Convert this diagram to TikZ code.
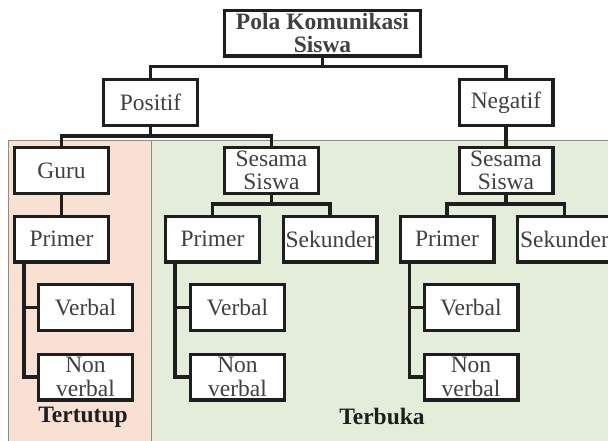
\documentclass[tikz,border=0pt]{standalone}
\usepackage{fontspec}
\setmainfont{Liberation Serif}
\usetikzlibrary{positioning, calc}
\definecolor{Ink}{HTML}{1E1E1E}
\definecolor{Peach}{HTML}{F8E1D3}
\definecolor{Sage}{HTML}{E3EDD9}
\definecolor{Edge}{HTML}{8A8F86}
\tikzset{
    boxnode/.style={rectangle, draw=Ink, line width=3.2pt, fill=white, text=Ink!85, align=center, inner sep=0pt,
        minimum width=93.8pt, minimum height=45.8pt, font=\fontsize{23.5}{23.5}\selectfont},
    rootnode/.style={boxnode, minimum width=195.8pt, font=\fontsize{23.5}{23.5}\selectfont\bfseries},
    link/.style={line width=3.2pt, draw=Ink},
    zone/.style={draw=Edge, line width=1pt},
    zonelabel/.style={font=\fontsize{23.5}{24}\selectfont\bfseries, text=Ink},
}
\begin{document}
\begin{tikzpicture}[x=1pt, y=-1pt]
    \useasboundingbox (0,0) rectangle (608,440);

    % Zone di sfondo
    \filldraw[zone, fill=Peach] (8,140) rectangle (151,441);
    \filldraw[zone, fill=Sage] (151,140) rectangle (609,441);
    \node[zonelabel] (tertutup) at (83,417) {Tertutup};
    \node[zonelabel] (terbuka) at (382,416) {Terbuka};

    % Livello 0 e 1
    \node[rootnode] (root) at (322.5,33) {Pola Komunikasi\\Siswa};
    \node[boxnode] (pos) at (150.5,102.5) {Positif};
    \node[boxnode] (neg) at (506,102.5) {Negatif};

    % Livello 2
    \node[boxnode] (guru) at (61.5,170.5) {Guru};
    \node[boxnode] (ssA) at (271.5,170.5) {Sesama\\Siswa};
    \node[boxnode] (ssB) at (506,170.5) {Sesama\\Siswa};

    % Livello 3
    \node[boxnode] (primA) at (61.5,239) {Primer};
    \node[boxnode] (primB) at (212.5,239) {Primer};
    \node[boxnode] (sekB) at (330,239) {Sekunder};
    \node[boxnode] (primC) at (447,239) {Primer};
    \node[boxnode] (sekC) at (564.5,239) {Sekunder};

    % Livello 4
    \foreach \n/\x in {A/85.5, B/237.5, C/471} {
        \node[boxnode] (verb\n) at (\x,307.5) {Verbal};
        \node[boxnode] (nonv\n) at (\x,377) {Non\\verbal};
    }

    % Collegamenti
    \draw[link] (root.south) -- ++(0,9) -| (pos.north);
    \draw[link] (root.south) -- ++(0,9) -| (neg.north);
    \draw[link] (pos.south) -- ++(0,9) -| (guru.north);
    \draw[link] (pos.south) -- ++(0,9) -| (ssA.north);
    \draw[link] (neg.south) -- (ssB.north);
    \draw[link] (guru.south) -- (primA.north);
    \draw[link] (ssA.south) -- ++(0,9) -| (primB.north);
    \draw[link] (ssA.south) -- ++(0,9) -| (sekB.north);
    \draw[link] (ssB.south) -- ++(0,9) -| (primC.north);
    \draw[link] (ssB.south) -- ++(0,9) -| (sekC.north);
    \foreach \n in {A, B, C} {
        \draw[link] ([xshift=11pt]prim\n.south west) |- (verb\n.west);
        \draw[link] ([xshift=11pt]prim\n.south west) |- (nonv\n.west);
    }
\end{tikzpicture}
\end{document}
